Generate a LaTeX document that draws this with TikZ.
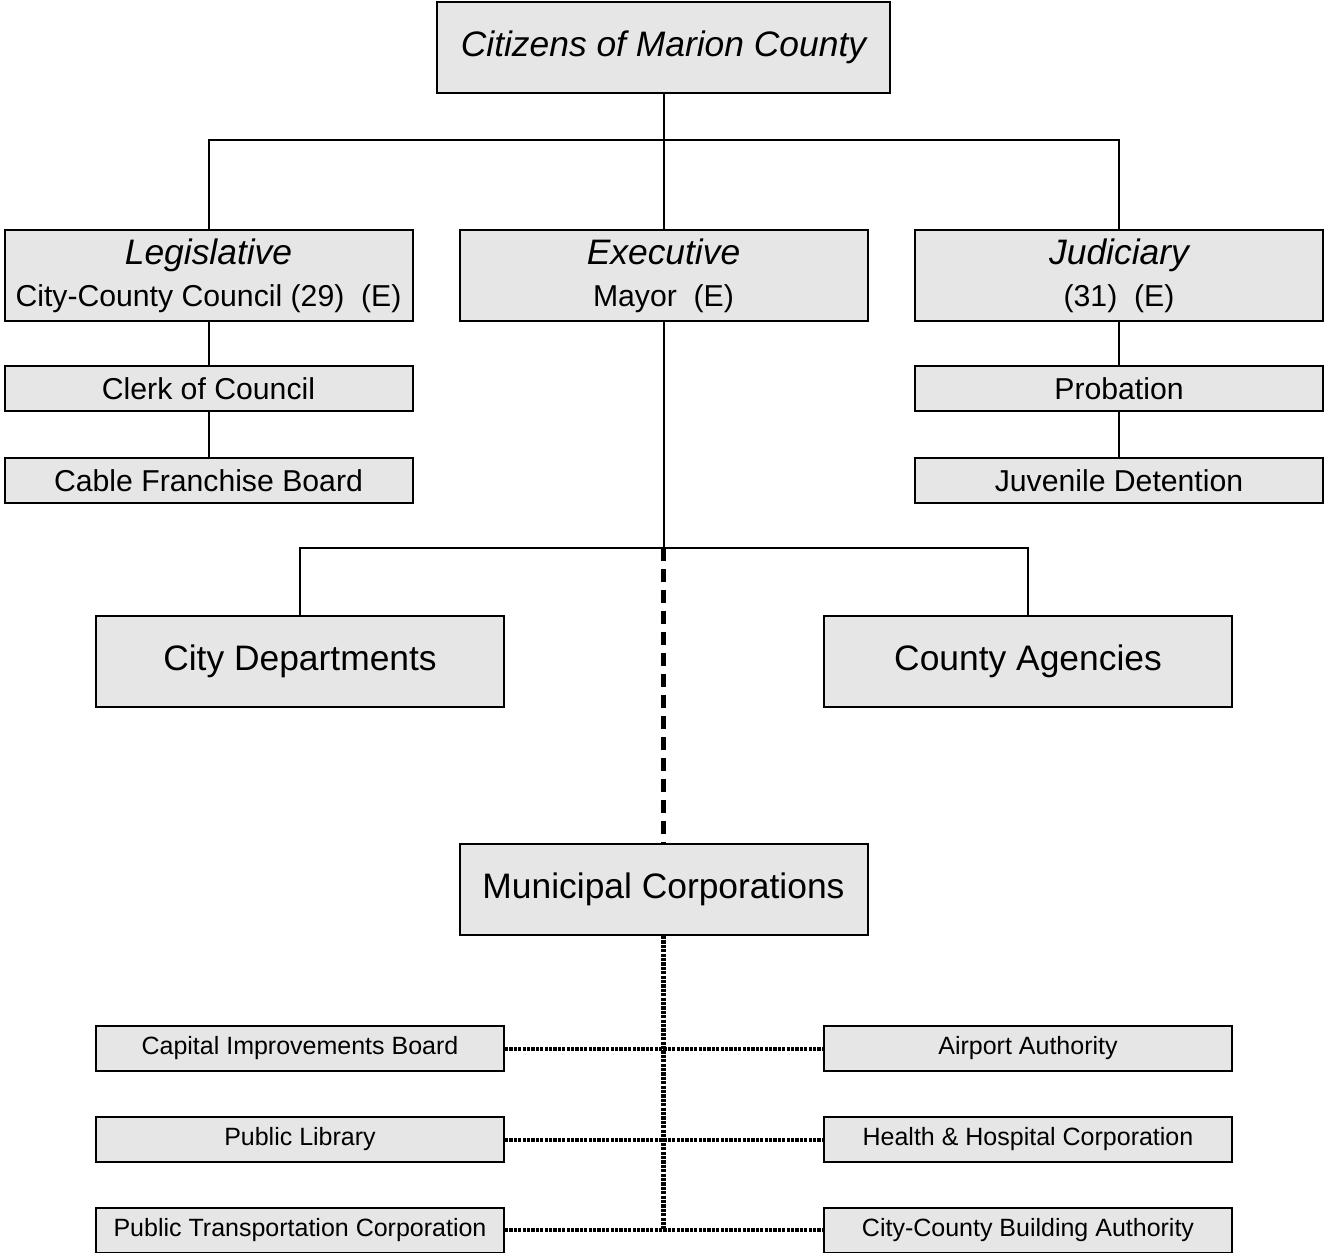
\documentclass[tikz,border=0pt]{standalone}
\usepackage{fontspec}
\setmainfont{Liberation Sans}
\definecolor{boxgray}{HTML}{E6E6E6}
\newcommand{\bigtxt}{\fontsize{17.7}{21}\selectfont}
\newcommand{\midtxt}{\fontsize{15.1}{21}\selectfont}
\newcommand{\smalltxt}{\fontsize{12.5}{15}\selectfont}
\begin{document}
\begin{tikzpicture}[x=0.5pt,y=-0.5pt,
    box/.style={draw, fill=boxgray, line width=1pt, inner sep=0pt, align=center, minimum width=204pt},
    tallbox/.style={box, minimum height=45.5pt},
    lowbox/.style={box, minimum height=22.5pt, font=\midtxt},
    tinybox/.style={box, minimum height=22.5pt, font=\smalltxt},
    link/.style={line width=1pt},
    dashlink/.style={line width=2.4pt, dash pattern=on 6.5pt off 4pt},
    dotlink/.style={line width=2pt, dash pattern=on 1.6pt off 0.6pt}]
                \useasboundingbox (0,0) rectangle (1324,1253);

                \node[tallbox, minimum width=226.5pt, font=\bigtxt\itshape] (citizens) at (663.5,47.5) {Citizens of Marion County};
                \node[tallbox, font=\midtxt] (leg) at (208.5,275.5) {{\bigtxt\itshape Legislative}\\City-County Council (29)\ \ (E)};
                \node[tallbox, font=\midtxt] (exe) at (663.5,275.5) {{\bigtxt\itshape Executive}\\Mayor\ \ (E)};
                \node[tallbox, font=\midtxt] (jud) at (1119,275.5) {{\bigtxt\itshape Judiciary}\\(31)\ \ (E)};
                \node[lowbox] (clerk) at (208.5,388.5) {Clerk of Council};
                \node[lowbox] (cable) at (208.5,480.5) {Cable Franchise Board};
                \node[lowbox] (prob) at (1119,388.5) {Probation};
                \node[lowbox] (juv) at (1119,480.5) {Juvenile Detention};
                \node[tallbox, font=\bigtxt] (citydep) at (300,661.5) {City Departments};
                \node[tallbox, font=\bigtxt] (county) at (1028,661.5) {County Agencies};
                \node[tallbox, font=\bigtxt] (muni) at (663.5,889.5) {Municipal Corporations};
                \node[tinybox] (capital) at (300,1048.5) {Capital Improvements Board};
                \node[tinybox] (airport) at (1028,1048.5) {Airport Authority};
                \node[tinybox] (library) at (300,1139.5) {Public Library};
                \node[tinybox] (health) at (1028,1139.5) {Health \& Hospital Corporation};
                \node[tinybox] (transit) at (300,1230) {Public Transportation Corporation};
                \node[tinybox] (building) at (1028,1230) {City-County Building Authority};

                \coordinate (split) at (663.5,140);
                \coordinate (fork) at (663.5,548);
                \coordinate (tail) at (663.5,1229);

                \draw[link] (citizens) -- (split);
                \draw[link] (leg.north) |- (split) -| (jud.north);
                \draw[link] (split) -- (exe);
                \draw[link] (leg) -- (clerk);
                \draw[link] (clerk) -- (cable);
                \draw[link] (jud) -- (prob);
                \draw[link] (prob) -- (juv);
                \draw[link] (exe) -- (fork);
                \draw[link] (citydep.north) |- (fork) -| (county.north);
                \draw[dashlink] (fork) -- (muni);
                \draw[dotlink, line width=2.5pt] (muni) -- (tail);
                \draw[dotlink] (capital) -- (airport);
                \draw[dotlink] (library) -- (health);
                \draw[dotlink] (transit) -- (building);
            \end{tikzpicture}
\end{document}
